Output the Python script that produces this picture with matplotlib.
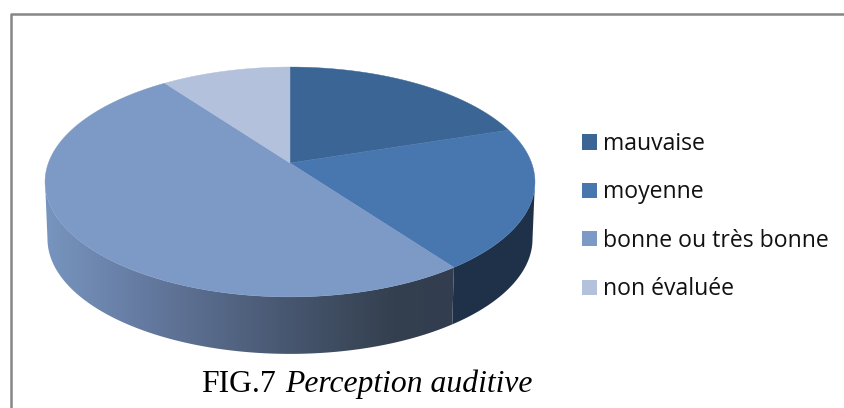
import numpy as np
import matplotlib
matplotlib.use('Agg')
from matplotlib import pyplot as plt
from matplotlib.patches import Polygon, Patch

categories = ['mauvaise', 'moyenne', 'bonne ou très bonne', 'non évaluée']
values = [20, 20, 50, 10]
colors = ['#3b6594', '#4877b0', '#7d99c6', '#b3c1dc']

# perspective of the disc, in pixels of the picture
cx, cy = 290, 163
a, b, k = 241.6, 111.8, 0.165
depth = 57


def project(theta, drop=0.0, shrink=1.0):
    # theta in degrees, clockwise from the top
    t = np.radians(theta)
    u, v = np.sin(t), np.cos(t)
    w = 1 + k * v
    return cx + shrink * a * u / w, cy - b * v / w + drop


def arc(t0, t1, drop=0.0, shrink=1.0):
    n = max(int(abs(t1 - t0)), 2) * 2
    x, y = project(np.linspace(t0, t1, n), drop, shrink)
    return np.column_stack([x, y])


fig = plt.figure(figsize=(8.44, 4.08), dpi=100)
ax = fig.add_axes([0, 0, 1, 1])
ax.set_xlim(0, 844)
ax.set_ylim(408, 0)
ax.axis('off')

# frame: only left and top show in the picture
ax.plot([10.5, 10.5, 844], [408, 13.5, 13.5], color='#868686', lw=1.8, solid_capstyle='butt')

edges = np.cumsum([0] + values) / sum(values) * 360
seam = edges[2]
left_end, right_end = 260.5, 99.5

# side wall, right part
right_side = np.vstack([arc(right_end, seam), arc(seam, right_end, depth, 0.99)])
ax.add_patch(Polygon(right_side, closed=True, fc='#1f3149', ec='none', zorder=2))

# side wall, left part with horizontal shading
left_side = np.vstack([arc(seam, left_end), arc(left_end, seam, depth, 0.99)])
clip = Polygon(left_side, closed=True, fc='none', ec='none', transform=ax.transData)
ax.add_patch(clip)
shade = matplotlib.colors.LinearSegmentedColormap.from_list(
    'side', [(0, '#7795bf'), (0.25, '#64799f'), (0.6, '#47566f'), (0.85, '#34404f'), (1, '#323d50')])
img = ax.imshow(np.linspace(0, 1, 256).reshape(1, -1), cmap=shade, extent=[45, 455, 354, 180],
                aspect='auto', zorder=2)
img.set_clip_path(clip)
ax.set_xlim(0, 844)
ax.set_ylim(408, 0)

# top face
for i, c in enumerate(colors):
    pts = np.vstack([[cx, cy], arc(edges[i], edges[i + 1])])
    ax.add_patch(Polygon(pts, closed=True, fc=c, ec=c, lw=0.3, zorder=3))

handles = [Patch(fc=c, ec='none') for c in colors]
ax.legend(handles, categories, loc='upper left', bbox_to_anchor=(582 / 844, 1 - 132 / 408),
          frameon=False, prop={'family': 'Open Sans', 'size': 16.6}, labelcolor='#111111',
          handlelength=0.65, handleheight=0.65, handletextpad=0.27,
          labelspacing=1.06, borderpad=0, borderaxespad=0)

ax.text(201, 392, 'FIG.7', family='Liberation Serif', fontsize=22.8, color='black', va='baseline')
ax.text(285, 392, 'Perception auditive', family='Liberation Serif', style='italic',
        fontsize=22.8, color='black', va='baseline')

fig.savefig('out.png', dpi=100)
